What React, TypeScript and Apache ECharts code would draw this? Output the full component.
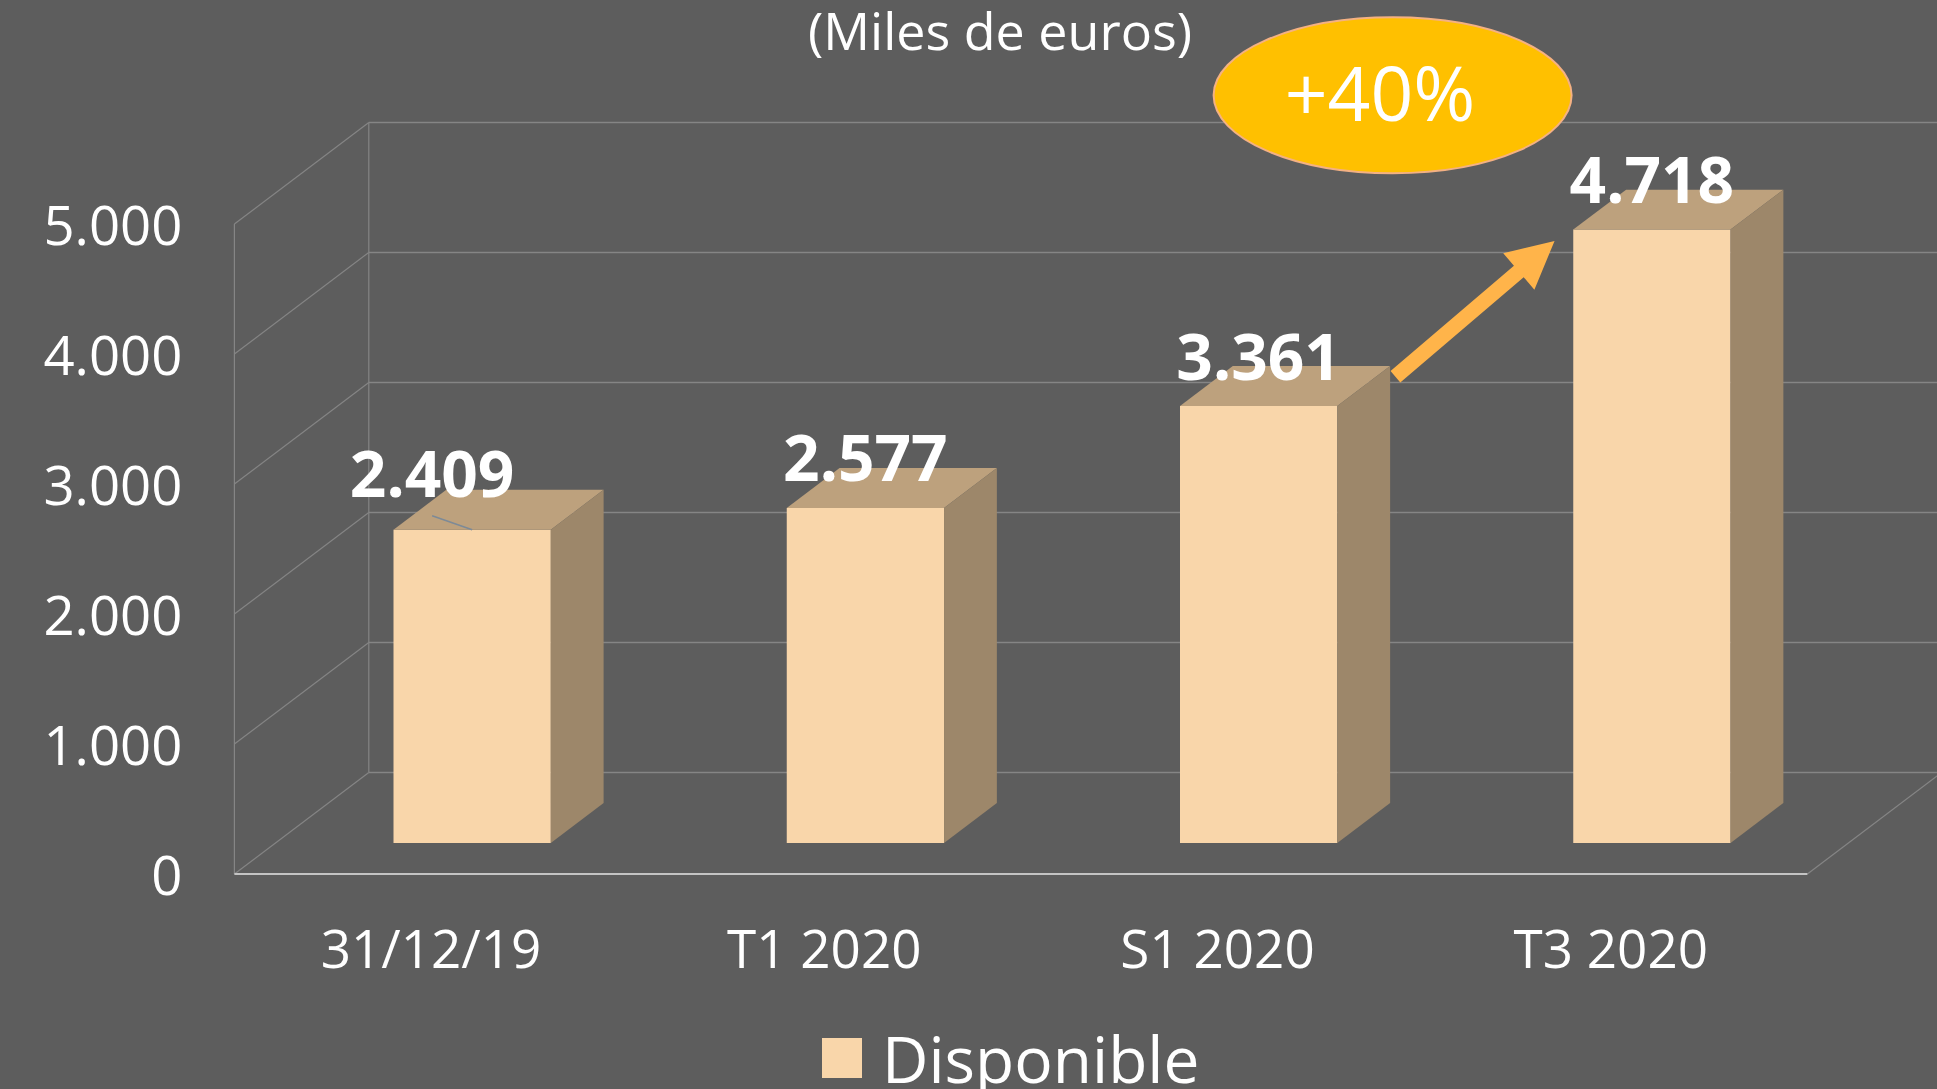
import React, { useEffect, useRef } from "react";
import * as echarts from "echarts";

// ---- data ----
const categories = ["31/12/19", "T1 2020", "S1 2020", "T3 2020"];
const disponible = [2409, 2577, 3361, 4718];
const yTicks = [0, 1000, 2000, 3000, 4000, 5000];
const seriesName = "Disponible";
const titleText = "(Miles de euros)";
const badgeText = "+40%";

// ---- style / layout ----
const FONT = "'Open Sans', 'Noto Sans', sans-serif";
const BG = "#5D5D5D";
const GRID_LINE = "#858585";
const FLOOR_LINE = "#C4C4C4";
const FRONT = "#F9D6AA";
const TOP = "#BDA17D";
const SIDE = "#9D876A";
const ARROW = "#FFB44A";
const DEPTH: [number, number] = [134.4, -101.6];
const F0 = 0.306;
const F1 = 0.699;
const BAR_W = 0.4;
const labelNudge: Record<number, [number, number]> = { 0: [-40, -6] };

const fmt = (v: number) => String(v).replace(/\B(?=(\d{3})+(?!\d))/g, ".");

const line = (x1: number, y1: number, x2: number, y2: number, stroke: string, lineWidth: number) => ({
  type: "line",
  shape: { x1, y1, x2, y2 },
  style: { stroke, lineWidth },
  silent: true,
});

const renderWalls = (params: any, api: any) => {
  const cs = params.coordSys;
  const [dx, dy] = DEPTH;
  const x0 = cs.x;
  const x1 = cs.x + cs.width;
  const children: any[] = [];
  yTicks.forEach((v) => {
    const y = api.coord([0, v])[1];
    children.push(line(x0, y, x0 + dx, y + dy, GRID_LINE, 1.2));
    children.push(line(x0 + dx, y + dy, x1 + dx, y + dy, GRID_LINE, 1.5));
  });
  const yb = api.coord([0, 0])[1];
  const yt = api.coord([0, yTicks[yTicks.length - 1]])[1];
  children.push(line(x0, yb, x0, yt, GRID_LINE, 1.2));
  children.push(line(x0 + dx, yb + dy, x0 + dx, yt + dy, GRID_LINE, 1.2));
  children.push(line(x1, yb, x1 + dx, yb + dy, GRID_LINE, 1.2));
  children.push(line(x0, yb, x1, yb, FLOOR_LINE, 2));
  return { type: "group", children };
};

const barGeom = (api: any, i: number, v: number) => {
  const [dx, dy] = DEPTH;
  const b = api.coord([i, 0]);
  const t = api.coord([i, v]);
  const w = api.size([1, 0])[0] * BAR_W;
  const cx = b[0] + F0 * dx;
  return {
    cx,
    xl: cx - w / 2,
    xr: cx + w / 2,
    yb: b[1] + F0 * dy,
    yt: t[1] + F0 * dy,
    ddx: (F1 - F0) * dx,
    ddy: (F1 - F0) * dy,
  };
};

const arrowPoints = (S: number[], T: number[], hw: number, hl: number, hh: number) => {
  const vx = T[0] - S[0];
  const vy = T[1] - S[1];
  const len = Math.hypot(vx, vy);
  const ux = vx / len;
  const uy = vy / len;
  const nx = -uy;
  const ny = ux;
  const H = [T[0] - ux * hl, T[1] - uy * hl];
  return [
    [S[0] + nx * hw, S[1] + ny * hw],
    [H[0] + nx * hw, H[1] + ny * hw],
    [H[0] + nx * hh, H[1] + ny * hh],
    [T[0], T[1]],
    [H[0] - nx * hh, H[1] - ny * hh],
    [H[0] - nx * hw, H[1] - ny * hw],
    [S[0] - nx * hw, S[1] - ny * hw],
  ];
};

const renderBar = (params: any, api: any) => {
  const i = api.value(0);
  const v = api.value(1);
  const g = barGeom(api, i, v);
  const children: any[] = [];
  children.push({
    type: "rect",
    shape: { x: g.xl, y: g.yt, width: g.xr - g.xl, height: g.yb - g.yt },
    style: { fill: FRONT },
  });
  children.push({
    type: "polygon",
    shape: {
      points: [
        [g.xl, g.yt],
        [g.xr, g.yt],
        [g.xr + g.ddx, g.yt + g.ddy],
        [g.xl + g.ddx, g.yt + g.ddy],
      ],
    },
    style: { fill: TOP },
  });
  children.push({
    type: "polygon",
    shape: {
      points: [
        [g.xr, g.yt],
        [g.xr + g.ddx, g.yt + g.ddy],
        [g.xr + g.ddx, g.yb + g.ddy],
        [g.xr, g.yb],
      ],
    },
    style: { fill: SIDE },
  });
  const nudge = labelNudge[i] || [0, 0];
  const lx = g.cx + nudge[0];
  const ly = g.yt + g.ddy - 11 + nudge[1];
  if (labelNudge[i]) {
    children.push(line(lx, ly + 43, g.cx, g.yt, "#7D8A97", 1.5));
  }
  children.push({
    type: "text",
    x: lx,
    y: ly,
    style: {
      text: fmt(v),
      fill: "#FFFFFF",
      fontSize: 64,
      fontWeight: "bold",
      fontFamily: FONT,
      align: "center",
      verticalAlign: "middle",
    },
  });
  if (i === disponible.length - 1) {
    const p = barGeom(api, i - 1, disponible[i - 1]);
    const S = [p.xr + p.ddx + 5.3, p.yt + p.ddy + 10.7];
    const T = [g.xl - 18.7, g.yt + 11.4];
    children.push({
      type: "polygon",
      shape: { points: arrowPoints(S, T, 7.5, 47, 24) },
      style: { fill: ARROW },
    });
  }
  return { type: "group", children };
};

export default function App() {
  const ref = useRef<HTMLDivElement>(null);
  useEffect(() => {
    document.body.style.margin = "0";
    document.body.style.overflow = "hidden";
    const chart = echarts.init(ref.current!, null, { renderer: "svg" });
    chart.setOption({
      animation: false,
      backgroundColor: BG,
      grid: { left: 234.4, right: 129.6, top: 224, bottom: 215, containLabel: false },
      xAxis: {
        type: "category",
        data: categories,
        axisLine: { show: false },
        axisTick: { show: false },
        splitLine: { show: false },
        axisLabel: { color: "#FFFFFF", fontSize: 53, fontFamily: FONT, margin: 47 },
      },
      yAxis: {
        type: "value",
        min: 0,
        max: 5000,
        interval: 1000,
        axisLine: { show: false },
        axisTick: { show: false },
        splitLine: { show: false },
        axisLabel: { color: "#FFFFFF", fontSize: 54.5, fontFamily: FONT, margin: 52, formatter: fmt },
      },
      legend: {
        left: 822,
        top: 1026,
        padding: 0,
        itemWidth: 40,
        itemHeight: 40,
        data: [{ name: seriesName, icon: "rect", itemStyle: { color: FRONT } }],
        textStyle: { color: "#FFFFFF", fontSize: 64, fontFamily: FONT, lineHeight: 40, padding: [0, 0, 0, 15] },
      },
      graphic: [
        {
          type: "text",
          z: 100,
          x: 1000,
          y: 29,
          style: {
            text: titleText,
            fill: "#FFFFFF",
            fontSize: 52,
            fontFamily: FONT,
            align: "center",
            verticalAlign: "middle",
          },
        },
        {
          type: "ellipse",
          z: 100,
          shape: { cx: 1392.6, cy: 95.3, rx: 179, ry: 78 },
          style: { fill: "#FFC000", stroke: "#F4B183", lineWidth: 2 },
        },
        {
          type: "text",
          z: 101,
          x: 1380,
          y: 92,
          style: {
            text: badgeText,
            fill: "#FFFFFF",
            fontSize: 75,
            fontFamily: FONT,
            align: "center",
            verticalAlign: "middle",
          },
        },
      ],
      series: [
        {
          type: "custom",
          silent: true,
          z: 1,
          clip: false,
          renderItem: renderWalls,
          data: [[0, 0]],
        },
        {
          type: "custom",
          name: seriesName,
          z: 2,
          clip: false,
          itemStyle: { color: FRONT },
          renderItem: renderBar,
          data: categories.map((c, i) => [i, disponible[i]]),
        },
      ],
    });
    return () => chart.dispose();
  }, []);
  return (
    <div
      ref={ref}
      style={{ position: "fixed", left: 0, top: 0, width: 1937, height: 1089 }}
    />
  );
}
